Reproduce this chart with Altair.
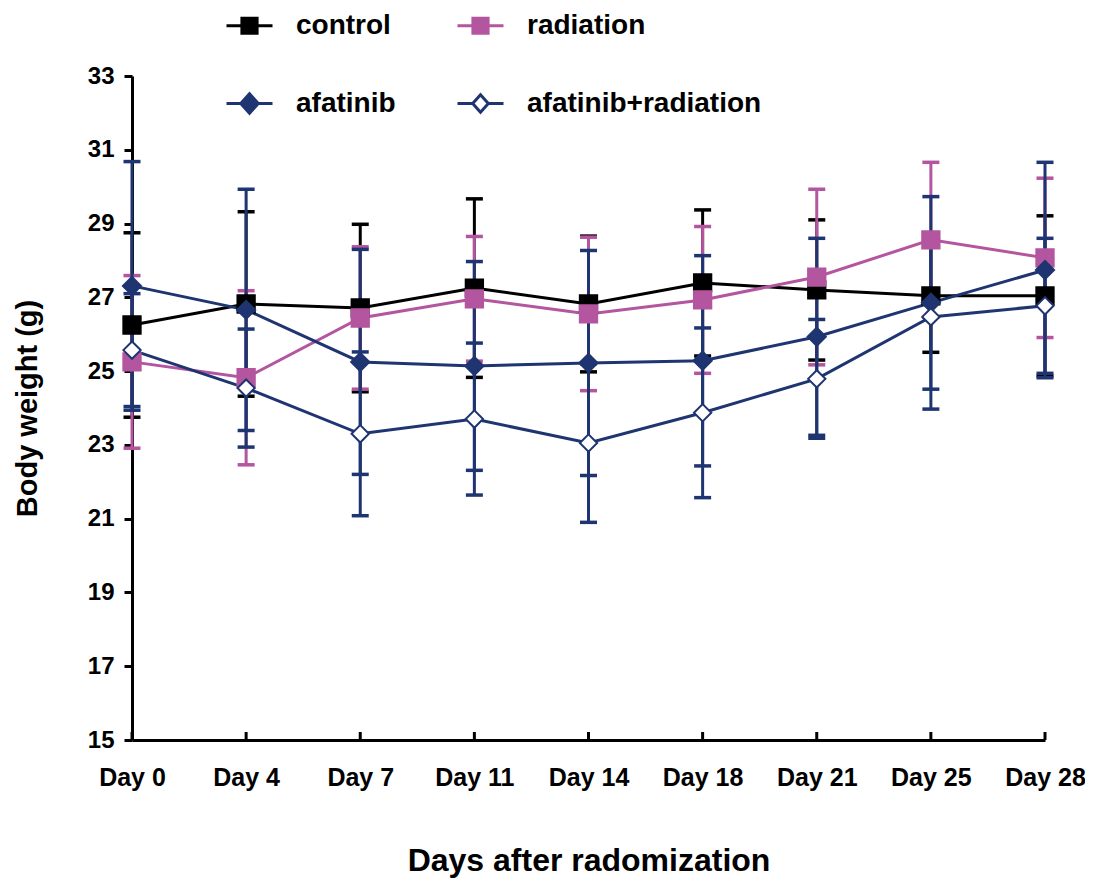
import altair as alt
import pandas as pd

# ---------------- data ----------------
days = ["Day 0", "Day 4", "Day 7", "Day 11", "Day 14", "Day 18", "Day 21", "Day 25", "Day 28"]
series_names = ["control", "radiation", "afatinib", "afatinib+radiation"]
legend_order = ["control", "afatinib", "radiation", "afatinib+radiation"]

control_mean = [26.25, 26.82, 26.71, 27.25, 26.82, 27.39, 27.20, 27.04, 27.04]
control_sd = [2.50, 2.50, 2.27, 2.42, 1.84, 1.98, 1.90, 1.53, 2.17]
radiation_mean = [25.25, 24.82, 26.44, 26.96, 26.55, 26.93, 27.55, 28.56, 28.07]
radiation_sd = [2.34, 2.36, 1.93, 1.69, 2.08, 1.99, 2.38, 2.10, 2.16]
afatinib_mean = [27.31, 26.66, 25.25, 25.14, 25.22, 25.28, 25.93, 26.85, 27.74]
afatinib_sd = [3.37, 3.27, 3.05, 2.83, 3.05, 2.85, 2.67, 2.88, 2.92]
combo_mean = [25.57, 24.54, 23.30, 23.70, 23.05, 23.87, 24.79, 26.47, 26.77]
combo_sd = [1.53, 1.60, 2.22, 2.06, 2.15, 2.30, 1.61, 1.96, 1.83]

y_ticks = [15, 17, 19, 21, 23, 25, 27, 29, 31, 33]

# ---------------- styles ----------------
stroke_colors = {"control": "#000000", "radiation": "#B4559F",
                 "afatinib": "#1F3571", "afatinib+radiation": "#1F3571"}
fill_colors = {"control": "#000000", "radiation": "#B4559F",
               "afatinib": "#1F3571", "afatinib+radiation": "#FFFFFF"}
marker_shapes = {"control": "square", "radiation": "square",
                 "afatinib": "diamond", "afatinib+radiation": "diamond"}
marker_sizes = {"control": 300, "radiation": 300, "afatinib": 330, "afatinib+radiation": 300}
SQ = "M-1,0L-0.33,0M0.33,0L1,0M-0.33,-0.33L0.33,-0.33L0.33,0.33L-0.33,0.33Z"
legend_paths = {
    "control": SQ,
    "radiation": SQ,
    "afatinib": "M-1,0L-0.38,0M0.38,0L1,0M-0.38,0L0,-0.42L0.38,0L0,0.42Z",
    "afatinib+radiation": "M-1,0L-0.34,0M0.34,0L1,0M-0.34,0L0,-0.38L0.34,0L0,0.38Z",
}
FONT = "Liberation Sans"

means = {"control": control_mean, "radiation": radiation_mean,
         "afatinib": afatinib_mean, "afatinib+radiation": combo_mean}
sds = {"control": control_sd, "radiation": radiation_sd,
       "afatinib": afatinib_sd, "afatinib+radiation": combo_sd}

rows = []
for name in series_names:
    for di, d in enumerate(days):
        m = means[name][di]
        s = sds[name][di]
        rows.append({"series": name, "day": d, "day_idx": di, "mean": m,
                     "lo": m - s, "hi": m + s})
df = pd.DataFrame(rows)
df_days = pd.DataFrame({"day": days, "base": [15] * len(days)})

# ---------------- axes ----------------
x_axis = alt.Axis(
    title="Days after radomization", labelAngle=0, labelFont=FONT, labelFontSize=25,
    labelFontWeight="bold", labelColor="#000000", labelPadding=25, ticks=False,
    domainColor="#000000", domainWidth=3, titleFont=FONT, titleFontSize=32,
    titleFontWeight="bold", titleColor="#000000", titlePadding=55, grid=False,
)
y_axis = alt.Axis(
    title="Body weight (g)", values=y_ticks, labelFont=FONT, labelFontSize=24,
    labelFontWeight="bold", labelColor="#000000", labelPadding=10, tickSize=8,
    tickWidth=3, tickColor="#000000", domainColor="#000000", domainWidth=3,
    titleFont=FONT, titleFontSize=29, titleFontWeight="bold", titleColor="#000000",
    titlePadding=45, grid=False,
)
x_enc = alt.X("day:N", sort=days, scale=alt.Scale(type="point", padding=0), axis=x_axis)
y_scale = alt.Scale(domain=[15, 33], nice=False, zero=False)


def Y(field):
    return alt.Y(f"{field}:Q", scale=y_scale, axis=y_axis)


base = alt.Chart(df)

layers = []
# x-axis ticks pointing inward
layers.append(
    alt.Chart(df_days).mark_tick(orient="vertical", size=8, thickness=3, yOffset=-4,
                                 color="#000000", opacity=1)
    .encode(x=x_enc, y=Y("base"))
)
# error bars
for name in series_names:
    sub = base.transform_filter(alt.datum.series == name)
    c = stroke_colors[name]
    layers.append(sub.mark_rule(strokeWidth=3, color=c).encode(x=x_enc, y=Y("lo"), y2="hi:Q"))
    layers.append(sub.mark_tick(orient="horizontal", size=17, thickness=3.5,
                                color=c, opacity=1).encode(x=x_enc, y=Y("hi")))
    layers.append(sub.mark_tick(orient="horizontal", size=17, thickness=3.5,
                                color=c, opacity=1).encode(x=x_enc, y=Y("lo")))
# lines
for name in series_names:
    sub = base.transform_filter(alt.datum.series == name)
    layers.append(sub.mark_line(strokeWidth=3, color=stroke_colors[name]).encode(
        x=x_enc, y=Y("mean"), order="day_idx:Q"))
# markers
for name in series_names:
    sub = base.transform_filter(alt.datum.series == name)
    layers.append(sub.mark_point(shape=marker_shapes[name], size=marker_sizes[name],
                                 fill=fill_colors[name], stroke=stroke_colors[name],
                                 strokeWidth=2, opacity=1, filled=False)
                  .encode(x=x_enc, y=Y("mean")))

# legend carrier (no visible marks)
leg = alt.Legend(
    title=None, orient="none", legendX=93, legendY=-75, columns=2,
    labelFont=FONT, labelFontSize=28, labelFontWeight="bold", labelColor="#000000",
    symbolSize=2116, symbolStrokeWidth=3, labelOffset=22, rowPadding=39,
    columnPadding=55, padding=0, symbolOpacity=1, labelLimit=400,
)
layers.append(
    base.transform_filter("false").mark_point(size=2116, strokeWidth=3, opacity=1, filled=False)
    .encode(
        x=x_enc, y=Y("mean"),
        color=alt.Color("series:N", scale=alt.Scale(domain=legend_order,
                        range=[stroke_colors[n] for n in legend_order]), legend=leg),
        fill=alt.Fill("series:N", scale=alt.Scale(domain=legend_order,
                      range=[fill_colors[n] for n in legend_order]), legend=leg),
        shape=alt.Shape("series:N", scale=alt.Scale(domain=legend_order,
                        range=[legend_paths[n] for n in legend_order]), legend=leg),
    )
)

chart = alt.layer(*layers).properties(
    width=913, height=664,
    padding={"left": 124, "top": 68, "right": 40, "bottom": 150},
    autosize=alt.AutoSizeParams(type="none"),
).configure_view(stroke=None, strokeWidth=0)

chart.save("out.html", embed_options={"renderer": "svg", "actions": False})
